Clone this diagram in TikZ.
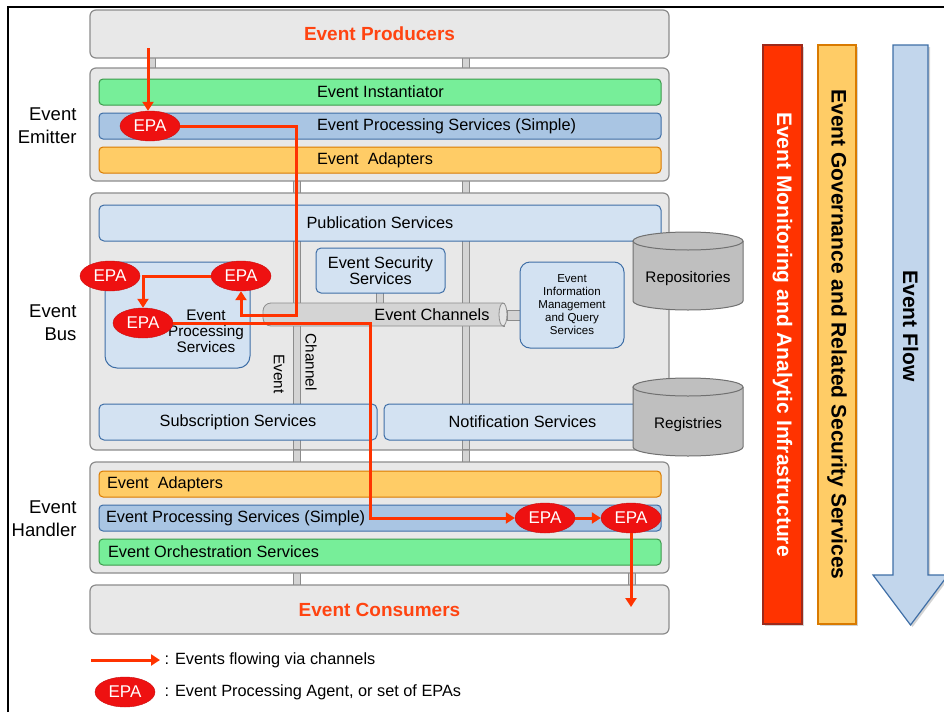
\documentclass[tikz,border=0pt]{standalone}
\usepackage{fontspec}
\setmainfont{Liberation Sans}
\usetikzlibrary{shapes.geometric,arrows.meta,shadows}

\definecolor{flowred}{HTML}{FF3300}
\definecolor{epared}{HTML}{EE1111}
\definecolor{boxgray}{HTML}{E8E8E8}
\definecolor{linegray}{HTML}{8C8C8C}
\definecolor{pipegray}{HTML}{D4D4D4}
\definecolor{rowgreen}{HTML}{77EE99}
\definecolor{rowgreenline}{HTML}{3C9A4C}
\definecolor{rowblue}{HTML}{A9C5E3}
\definecolor{svcblue}{HTML}{D3E2F2}
\definecolor{blueline}{HTML}{3E6EA6}
\definecolor{roworange}{HTML}{FFCC66}
\definecolor{orangeline}{HTML}{D97A00}
\definecolor{cylgray}{HTML}{BFBFBF}
\definecolor{titlered}{HTML}{FF4411}
\definecolor{barred}{HTML}{FF3300}
\definecolor{barredline}{HTML}{9C2A1C}
\definecolor{flowblue}{HTML}{C2D6EC}

\tikzset{
  layer/.style={draw=linegray,fill=boxgray,rounded corners=6pt,line width=1.2pt,
    minimum width=579pt,inner sep=0pt},
  title/.style={text=titlered,font=\fontsize{19}{20}\selectfont\bfseries},
  row/.style={line width=1pt,rounded corners=4pt,minimum width=562pt,
    minimum height=26pt,inner sep=0pt},
  greenrow/.style={row,fill=rowgreen,draw=rowgreenline},
  bluerow/.style={row,fill=rowblue,draw=blueline},
  orangerow/.style={row,fill=roworange,draw=orangeline},
  svc/.style={draw=blueline,fill=svcblue,line width=1pt,rounded corners=5pt,
    inner sep=0pt,align=center,font=\fontsize{16.3}{16}\selectfont},
  txt/.style={font=\fontsize{16.3}{16}\selectfont},
  side/.style={align=right,anchor=east,font=\fontsize{18.5}{23}\selectfont},
  epa/.style={ellipse,fill=epared,draw=epared!85!black,text=white,
    minimum width=60pt,minimum height=30pt,inner sep=0pt,
    font=\fontsize{17}{17}\selectfont},
  flow/.style={draw=flowred,line width=3pt,-{Triangle[length=9pt,width=11pt]}},
  pipe/.style={draw=linegray,fill=pipegray,line width=0.8pt},
  cyl/.style={draw=linegray!80!black,fill=cylgray,line width=1pt},
  bar/.style={rotate=-90,minimum width=579pt,inner sep=0pt,line width=1.2pt,
    font=\fontsize{21}{21}\selectfont\bfseries,
    drop shadow={shadow xshift=2pt,shadow yshift=-2pt,opacity=.35}}
}

\begin{document}
\begin{tikzpicture}[x=1pt,y=-1pt]
  \useasboundingbox (0,0) rectangle (944,712);
  \draw[line width=1.2pt] (8,712) -- (8,7) -- (944,7);

  % pipes between the layers
  \filldraw[pipe] (148,50) rectangle (155,75);
  \filldraw[pipe] (462,50) rectangle (469,75);
  \filldraw[pipe] (293,175) rectangle (300,200);
  \filldraw[pipe] (462,175) rectangle (469,200);
  \filldraw[pipe] (293,445) rectangle (300,470);
  \filldraw[pipe] (462,445) rectangle (469,470);
  \filldraw[pipe] (293,565) rectangle (300,590);
  \filldraw[pipe] (628,565) rectangle (635,590);

  % layers
  \path (379.5,34) node[layer,minimum height=48pt] (P) {};
  \path (P) node[title] {Event Producers};
  \path (379.5,124.5) node[layer,minimum height=113pt] (Em) {};
  \path (379.5,321.5) node[layer,minimum height=257pt] (Bus) {};
  \path (379.5,517.5) node[layer,minimum height=111pt] (H) {};
  \path (379.5,609.5) node[layer,minimum height=49pt] (C) {};
  \path (C) node[title] {Event Consumers};

  \path (80,126) node[side] {Event\\Emitter};
  \path (80,323) node[side] {Event\\Bus};
  \path (80,519) node[side] {Event\\Handler};

  % emitter
  \path (380,92) node[greenrow] (Inst) {};
  \path node[bluerow,below of=Inst,node distance=34pt] (EmSimple) {};
  \path node[orangerow,below of=EmSimple,node distance=34pt] (EmAdapt) {};
  \path ([xshift=215pt]Inst.west) node[txt,anchor=west] {Event Instantiator};
  \path ([xshift=215pt]EmSimple.west) node[txt,anchor=west] {Event Processing Services (Simple)};
  \path ([xshift=215pt]EmAdapt.west) node[txt,anchor=west] {Event\ \ Adapters};

  % bus
  \filldraw[pipe] (293,236) rectangle (300,449);
  \filldraw[pipe] (462,236) rectangle (469,449);
  \filldraw[pipe] (376,288) rectangle (383,306);
  \path (380,223) node[svc,minimum width=562pt,minimum height=36pt] (Pub) {Publication Services};
  \path (177.5,315) node[svc,rounded corners=12pt,minimum width=145pt,minimum height=106pt] (EPSgrp) {};
  \path (206,331) node[align=center,font=\fontsize{15.3}{16}\selectfont] {Event\\Processing\\Services};
  \path (380.5,270.5) node[svc,minimum width=129pt,minimum height=45pt] (Sec) {Event Security\\Services};
  \filldraw[pipe,rounded corners=8pt] (503,303) -- (263,303) -- (263,326) -- (503,326);
  \filldraw[pipe,rounded corners=0pt] (503,303) rectangle (504,326);
  \filldraw[pipe,fill=pipegray!60] (503,314.5) ellipse [x radius=4,y radius=11.5];
  \filldraw[pipe] (507,310) rectangle (520,320);
  \path (432,315) node[txt] (Chan) {Event Channels};
  \path (279,374) node[txt,rotate=-90,font=\fontsize{15.3}{15}\selectfont] {Event};
  \path (311,362) node[txt,rotate=-90,font=\fontsize{15.3}{15}\selectfont] {Channel};
  \path (572,305) node[svc,rounded corners=10pt,minimum width=104pt,minimum height=86pt,
    font=\fontsize{11.5}{13}\selectfont] (Info) {Event\\Information\\Management\\and Query\\Services};
  \path (238,422) node[svc,minimum width=278pt,minimum height=36pt] (Sub) {Subscription Services};
  \path (522.5,422) node[svc,minimum width=277pt,minimum height=36pt] (Notif) {Notification Services};

  % repositories and registries
  \filldraw[cyl] (633,241) -- (633,301) arc[start angle=180,end angle=0,x radius=55,y radius=9] -- (743,241);
  \filldraw[cyl] (688,241) ellipse [x radius=55,y radius=9];
  \path (688,279) node[txt,font=\fontsize{15.3}{15}\selectfont] (Repo) {Repositories};
  \filldraw[cyl] (633,387) -- (633,447) arc[start angle=180,end angle=0,x radius=55,y radius=9] -- (743,387);
  \filldraw[cyl] (688,387) ellipse [x radius=55,y radius=9];
  \path (688,425) node[txt,font=\fontsize{15.3}{15}\selectfont] (Reg) {Registries};

  % handler
  \path (380,484) node[orangerow] (HAdapt) {};
  \path node[bluerow,below of=HAdapt,node distance=34pt] (HSimple) {};
  \path node[greenrow,below of=HSimple,node distance=34pt] (Orch) {};
  \path ([xshift=5pt]HAdapt.west) node[txt,anchor=west] {Event\ \ Adapters};
  \path ([xshift=4pt]HSimple.west) node[txt,anchor=west] {Event Processing Services (Simple)};
  \path ([xshift=6pt]Orch.west) node[txt,anchor=west] {Event Orchestration Services};

  % agents
  \path (150,126) node[epa] (E1) {EPA};
  \path (110,276) node[epa] (E2) {EPA};
  \path (241,276) node[epa] (E3) {EPA};
  \path (143,323) node[epa] (E4) {EPA};
  \path (545,518) node[epa] (E5) {EPA};
  \path (631,518) node[epa] (E6) {EPA};

  % event flow
  \coordinate (src) at (148,48);
  \coordinate (J1) at (296,315);
  \coordinate (J2) at (370,518);
  \coordinate (sink) at (631,607);
  \draw[flow] (src) -- (src |- E1.north);
  \draw[flow] (E1.east) -| (J1) -| (E3.south);
  \draw[flow] (E3.west) -| (E4.north);
  \draw[flow] (E4.east) -| (J2) -- (E5.west);
  \draw[flow] (E5.east) -- (E6.west);
  \draw[flow] (E6.south) -- (sink);

  % right hand bars
  \path (782.5,334.5) node[bar,fill=barred,draw=barredline,minimum height=39pt,text=white] (Mon)
    {Event Monitoring and Analytic Infrastructure};
  \path (837,334.5) node[bar,fill=roworange,draw=orangeline,minimum height=38pt] (Gov)
    {Event Governance and Related Security Services};
  \filldraw[fill=flowblue,draw=blueline,line width=1.2pt,
    drop shadow={shadow xshift=2pt,shadow yshift=-2pt,opacity=.35}]
    (893,45) -- (928,45) -- (928,575) -- (948,575) -- (910.5,625) -- (873,575) -- (893,575) -- cycle;
  \path (910.5,326) node[rotate=-90,font=\fontsize{21}{21}\selectfont\bfseries] (Flow) {Event Flow};

  % legend
  \coordinate (L1) at (91,660);
  \coordinate (L2) at (160,660);
  \draw[flow] (L1) -- (L2);
  \path (161,660) node[txt,anchor=west] {: Events flowing via channels};
  \path (125,692) node[epa] (LE) {EPA};
  \path (161,692) node[txt,anchor=west] {: Event Processing Agent, or set of EPAs};
\end{tikzpicture}
\end{document}
